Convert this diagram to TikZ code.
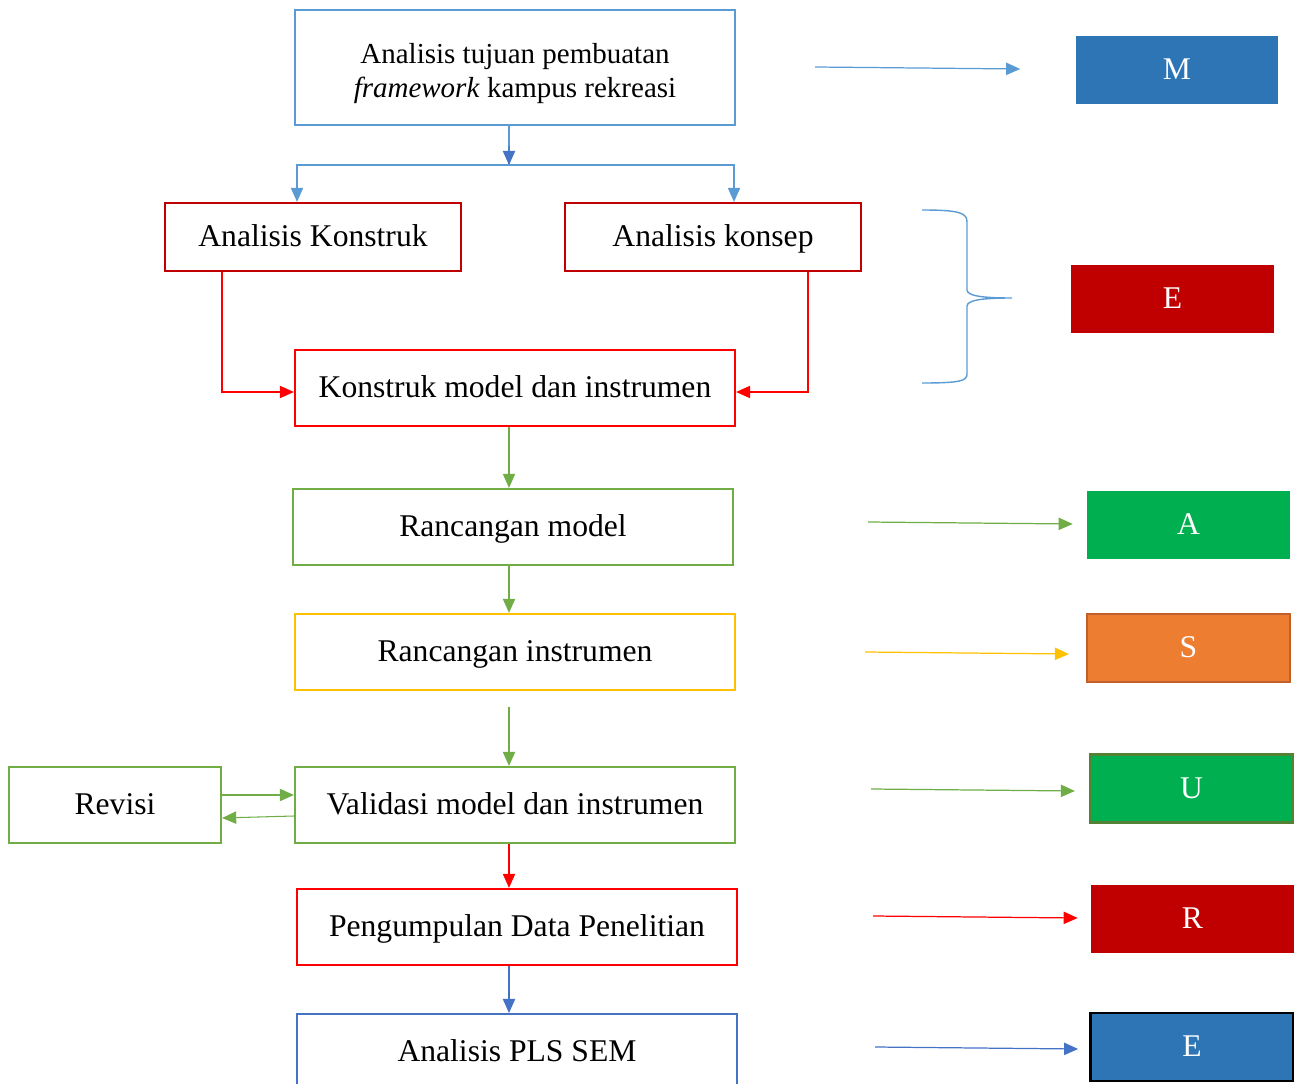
\documentclass[tikz,border=0pt]{standalone}
\usepackage{fontspec}
\setmainfont{Liberation Serif}
\usepackage{tikz}
\usetikzlibrary{arrows.meta, positioning, calc}
\definecolor{fwSky}{HTML}{5B9BD5}
\definecolor{fwBlue}{HTML}{4472C4}
\definecolor{fwRed}{HTML}{FF0000}
\definecolor{fwDark}{HTML}{C00000}
\definecolor{fwGreen}{HTML}{70AD47}
\definecolor{fwGold}{HTML}{FFC000}
\definecolor{fwLetBlue}{HTML}{2E75B6}
\definecolor{fwLetGreen}{HTML}{00B050}
\definecolor{fwOrange}{HTML}{ED7D31}
\definecolor{fwRust}{HTML}{C0602A}
\definecolor{fwMoss}{HTML}{548235}
\tikzset{
  fwnode/.style={
    draw, line width=1.3pt, minimum height=1.52cm, minimum width=8.8cm,
    font=\fontsize{18}{22}\selectfont, align=center, inner sep=0pt,
    text height=11pt, text depth=0pt
  },
  letter/.style={
    minimum height=1.36cm, minimum width=4.06cm, inner sep=0pt,
    font=\fontsize{18}{22}\selectfont, text=white,
    text height=11pt, text depth=0pt
  },
  flow/.style={-{Triangle[length=8pt, width=7pt]}, line width=0.6pt},
  side/.style={-{Triangle[length=8pt, width=7pt]}, line width=0.7pt}
}

\begin{document}
\begin{tikzpicture}[x=0.02cm, y=-0.02cm]
  \clip (0,0) rectangle (1294,1084);
  % flow column
  \node[fwnode, draw=fwSky, minimum height=2.3cm, text height=, text depth=, font=\fontsize{16.5}{19.5}\selectfont] (tujuan) at (515,67.5)
    {\rule{0pt}{18pt}Analisis tujuan pembuatan\\\textit{framework} kampus rekreasi};
  \node[fwnode, draw=fwDark, minimum width=5.92cm, minimum height=1.36cm] (konstruk) at (313,237) {Analisis Konstruk};
  \node[fwnode, draw=fwDark, minimum width=5.92cm, minimum height=1.36cm] (konsep) at (713,237) {Analisis konsep};
  \node[fwnode, draw=fwRed] (kmodel) at (515,388) {Konstruk model dan instrumen};
  \node[fwnode, draw=fwGreen] (rmodel) at (513,527) {Rancangan model};
  \node[fwnode, draw=fwGold] (rinstr) at (515,652) {Rancangan instrumen};
  \node[fwnode, draw=fwGreen] (valid) at (515,805) {Validasi model dan instrumen};
  \node[fwnode, draw=fwGreen, minimum width=4.24cm] (revisi) at (115,805) {Revisi};
  \node[fwnode, draw=fwRed] (kumpul) at (517,927) {Pengumpulan Data Penelitian};
  \node[fwnode, draw=fwBlue, minimum height=1.6cm, anchor=north] (pls) at (517,1013) {};
  \node[font=\fontsize{18}{22}\selectfont, text height=11pt, text depth=0pt, inner sep=0pt] (plstext) at (517,1052) {Analisis PLS SEM};

  % letters
  \node[letter, fill=fwLetBlue] (lM) at (1177,70) {M};
  \node[letter, fill=fwDark] (lE) at (1172.5,299) {E};
  \node[letter, fill=fwLetGreen] (lA) at (1188.5,525) {A};
  \node[letter, fill=fwOrange, draw=fwRust, line width=1.3pt] (lS) at (1188.5,648) {S};
  \node[letter, fill=fwLetGreen, draw=fwMoss, line width=1.3pt] (lU) at (1191.5,788.5) {U};
  \node[letter, fill=fwDark] (lR) at (1192.5,919) {R};
  \node[letter, fill=fwLetBlue, draw=black, line width=1.6pt] (lE2) at (1192,1047) {E};

  % connectors
  \coordinate (mid) at (509,0);
  \coordinate (split) at (509,165);
  \draw[fwSky, line width=0.6pt] (tujuan.south -| mid) -- (split);
  \draw[flow, fwBlue] ($(tujuan.south -| mid)!0.5!(split)$) -- (split);
  \draw[flow, fwSky] (split) -| (konstruk.north -| 297,0);
  \draw[flow, fwSky] (split) -| (konsep.north -| 734,0);
  \draw[flow, fwRed] (konstruk.south -| 222,0) |- (kmodel.west |- 0,392);
  \draw[flow, fwRed] (konsep.south -| 808,0) |- (kmodel.east |- 0,392);
  \draw[flow, fwGreen] (kmodel.south -| mid) -- (rmodel.north -| mid);
  \draw[flow, fwGreen] (rmodel.south -| mid) -- (rinstr.north -| mid);
  \draw[flow, fwGreen, shorten <=0.32cm] (rinstr.south -| mid) -- (valid.north -| mid);
  \draw[flow, fwGreen] (revisi.east |- 0,795) -- (valid.west |- 0,795);
  \draw[flow, fwGreen] (valid.west |- 0,816) -- (revisi.east |- 0,818);
  \draw[flow, fwRed] (valid.south -| mid) -- (kumpul.north -| mid);
  \draw[flow, fwBlue] (kumpul.south -| mid) -- (pls.north -| mid);

  % side arrows
  \coordinate (mA) at (815,67);
  \coordinate (aA) at (868,522);
  \coordinate (sA) at (865,652);
  \coordinate (uA) at (871,789);
  \coordinate (rA) at (873,916);
  \coordinate (eA) at (875,1047);
  \draw[side, fwSky] (mA) -- ([xshift=-1.1cm]lM.west |- 0,69);
  \draw[side, fwGreen] (aA) -- ([xshift=-0.28cm]lA.west |- 0,524);
  \draw[side, fwGold] (sA) -- ([xshift=-0.34cm]lS.west |- 0,654);
  \draw[side, fwGreen] (uA) -- ([xshift=-0.28cm]lU.west |- 0,791);
  \draw[side, fwRed] (rA) -- ([xshift=-0.26cm]lR.west |- 0,918);
  \draw[side, fwBlue] (eA) -- ([xshift=-0.22cm]lE2.west |- 0,1049);

  % brace
  \draw[fwSky, line width=0.8pt] (922,210) .. controls (960,210) and (967,213) .. (967,222)
    -- (967,290) .. controls (967,297) and (990,298) .. (1012,298)
    .. controls (990,298) and (967,299) .. (967,306)
    -- (967,374) .. controls (967,381) and (960,383) .. (922,383);
\end{tikzpicture}
\end{document}
